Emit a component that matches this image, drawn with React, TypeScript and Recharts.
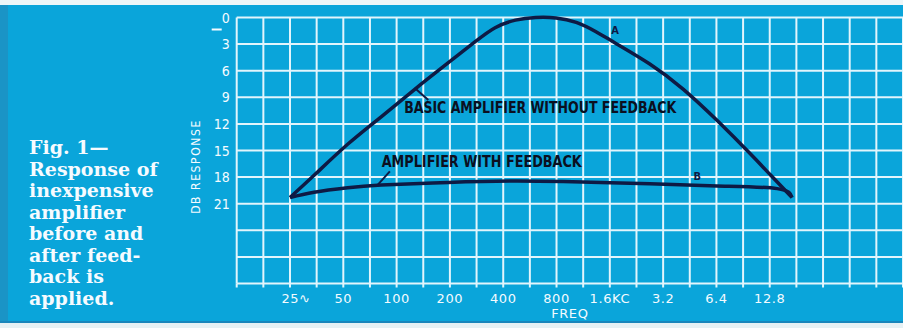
import React from 'react';
import { LineChart, Line, XAxis, YAxis, CartesianGrid, ReferenceDot, ReferenceLine, Label } from 'recharts';

// ---- data ----
const freqTickLabels = ['25∿', '50', '100', '200', '400', '800', '1.6KC', '3.2', '6.4', '12.8'];
const dbTickLabels = ['0', '3', '6', '9', '12', '15', '18', '21'];

// Curve A: basic amplifier without feedback (Hz, dB down)
const basicFreq = [25, 34.2, 52.9, 81.8, 126.6, 196, 279, 360, 469, 611, 795, 1034, 1336, 1739, 2690, 4164, 6444, 9970, 12980, 17100];
const basicDb = [20.3, 17.8, 14.3, 11.2, 8.1, 5.1, 2.7, 1.15, 0.3, 0, 0.05, 0.55, 1.6, 2.95, 5.25, 8.1, 11.6, 15.4, 17.8, 20.3];

// Curve B: amplifier with feedback
const fbFreq = [25, 34.2, 52.9, 81.8, 196, 469, 1120, 2690, 6444, 14100, 17100];
const fbDb = [20.3, 19.7, 19.2, 18.9, 18.6, 18.45, 18.55, 18.75, 19.0, 19.3, 20.3];

const captionLines = ['Fig. 1—', 'Response of', 'inexpensive', 'amplifier', 'before and', 'after feed-', 'back is', 'applied.'];

const BASE = 25;
const basicData = basicFreq.map((f, i) => ({ f, db: basicDb[i] }));
const fbData = fbFreq.map((f, i) => ({ f, db: fbDb[i] }));
const gridFreqs = Array.from({ length: 26 }, (_, i) => BASE * Math.pow(2, (i - 2) / 2));
const gridDb = Array.from({ length: 11 }, (_, i) => i * 3);

const BLUE = '#0aa5da';
const GRID = '#e2f5fc';
const INK = '#0e1a44';

const XTick = (props: any) => {
  const { x, y, payload } = props;
  const k = Math.round(2 * Math.log2(payload.value / BASE));
  const idx = k / 2;
  const label = k >= 0 && k % 2 === 0 && idx < freqTickLabels.length ? freqTickLabels[idx] : '';
  if (!label) return <g />;
  return (
    <text x={x} y={y} dy={13} dx={label.endsWith('∿') ? 6 : 0} textAnchor="middle" fill="#f4fbff"
      fontFamily="DejaVu Sans" fontSize={13} letterSpacing={0.6}>
      {label}
    </text>
  );
};

const YTick = (props: any) => {
  const { x, y, payload } = props;
  const idx = Math.round(payload.value / 3);
  const label = idx < dbTickLabels.length ? dbTickLabels[idx] : '';
  if (!label) return <g />;
  return (
    <g>
      <text x={x} y={y} dy={5} textAnchor="end" fill="#f4fbff" fontFamily="DejaVu Sans Condensed" fontSize={14}>
        {label}
      </text>
      {idx === 0 && <rect x={x - 18} y={y + 11} width={10} height={2} fill="#f4fbff" />}
    </g>
  );
};

const annot = (text: string, len: number, size: number) => (p: any) => (
  <text x={p.cx} y={p.cy} dy={size * 0.36} fill="#0b0f20" fontFamily="DejaVu Sans Condensed" fontWeight="bold"
    fontSize={size} textLength={len} lengthAdjust="spacingAndGlyphs">
    {text}
  </text>
);

const letter = (text: string) => (p: any) => (
  <text x={p.cx} y={p.cy} dy={4} textAnchor="middle" fill={INK} fontFamily="DejaVu Sans Condensed" fontWeight="bold" fontSize={11}>
    {text}
  </text>
);

export default function App() {
  return (
    <div style={{ position: 'absolute', left: 0, top: 0, width: 903, height: 328, overflow: 'hidden', background: BLUE }}>
      <div style={{ position: 'absolute', left: 0, top: 0, width: 903, height: 5, background: '#eef6f8' }} />
      <div style={{ position: 'absolute', left: 0, top: 5, width: 8, height: 318, background: '#1a94c6' }} />
      <div style={{ position: 'absolute', left: 0, top: 321, width: 903, height: 2, background: '#1a86bb' }} />
      <div style={{ position: 'absolute', left: 0, top: 323, width: 903, height: 5, background: '#e6f1f4' }} />
      <svg style={{ position: 'absolute', left: 0, top: 0 }} width={200} height={328}>
        {captionLines.map((t, i) => (
          <text key={i} x={29} y={154 + i * 21.5} fill="#f6fbff" fontFamily="DejaVu Serif" fontWeight="bold" fontSize={19}>
            {t}
          </text>
        ))}
      </svg>
      <div style={{ position: 'absolute', left: 0, top: 0 }}>
        <LineChart width={903} height={328} margin={{ top: 17.5, right: 0, left: 206.7, bottom: 14.5 }}>
          <CartesianGrid stroke={GRID} strokeWidth={2} horizontal vertical />
          <XAxis dataKey="f" type="number" scale="log" domain={[BASE / 2, BASE * Math.pow(2, 11.5)]} ticks={gridFreqs}
            allowDataOverflow interval={0} height={30} tickSize={4} tickMargin={2}
            axisLine={false} tickLine={{ stroke: GRID, strokeWidth: 2 }} tick={<XTick />}>
            <Label value="FREQ" position="insideBottom" offset={-4} fill="#f4fbff" fontFamily="DejaVu Sans" fontSize={13} letterSpacing={0.6} />
          </XAxis>
          <YAxis type="number" reversed domain={[0, 30]} ticks={gridDb} interval={0} width={30} tickSize={5} tickMargin={2}
            axisLine={false} tickLine={false} tick={<YTick />}>
            <Label content={(p: any) => (
              <text x={p.viewBox.x - 11} y={p.viewBox.y + p.viewBox.height / 2 + 16} transform={`rotate(-90 ${p.viewBox.x - 11} ${p.viewBox.y + p.viewBox.height / 2 + 16})`}
                textAnchor="middle" dy={4} fill="#f4fbff" fontFamily="DejaVu Sans Condensed" fontSize={12} letterSpacing={1.6}>
                DB RESPONSE
              </text>
            )} />
          </YAxis>
          <Line data={basicData} dataKey="db" type="natural" stroke={INK} strokeWidth={3.5} dot={false} isAnimationActive={false} />
          <Line data={fbData} dataKey="db" type="natural" stroke={INK} strokeWidth={3.5} dot={false} isAnimationActive={false} />
          <ReferenceLine segment={[{ x: 126.6, y: 7.95 }, { x: 151, y: 9.3 }]} stroke={INK} strokeWidth={2} ifOverflow="visible" />
          <ReferenceLine segment={[{ x: 91.6, y: 17.35 }, { x: 78.4, y: 18.85 }]} stroke={INK} strokeWidth={2} ifOverflow="visible" />
          <ReferenceDot x={110.3} y={10.2} r={0} ifOverflow="visible" shape={annot('BASIC AMPLIFIER WITHOUT FEEDBACK', 272, 15)} />
          <ReferenceDot x={82.4} y={16.3} r={0} ifOverflow="visible" shape={annot('AMPLIFIER WITH FEEDBACK', 200, 15)} />
          <ReferenceDot x={1715} y={1.37} r={0} ifOverflow="visible" shape={letter('A')} />
          <ReferenceDot x={4983} y={17.9} r={0} ifOverflow="visible" shape={letter('B')} />
        </LineChart>
      </div>
    </div>
  );
}
